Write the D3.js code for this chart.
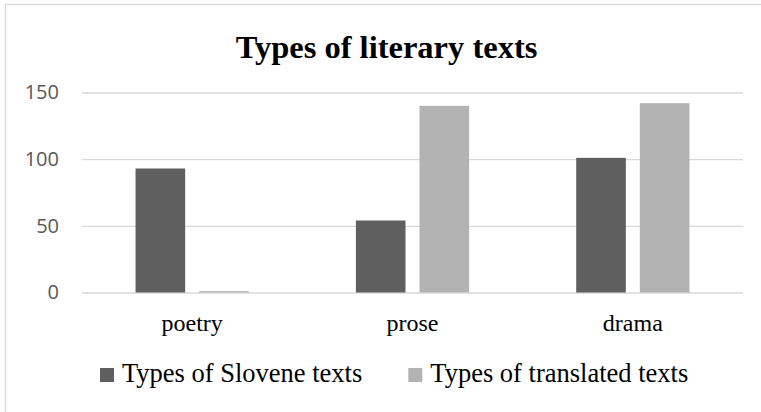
<!DOCTYPE html>
<html>
<head>
<meta charset="utf-8">
<script src="https://cdn.jsdelivr.net/npm/d3@7"></script>
<style>
  body { margin: 0; background: #fff; }
  svg { display: block; }
</style>
</head>
<body>
<script>
// chart data
const categories = ['poetry', 'prose', 'drama']
const seriesNames = ['Types of Slovene texts', 'Types of translated texts']
const slovene = [93, 54, 101]
const translated = [1, 140, 142]
const yTicks = [0, 50, 100, 150]
const seriesColors = ['#5f5f5f', '#b3b3b3']

const fullWidth = 761
const fullHeight = 412
const margin = {top: 92.5, right: 18, bottom: 119.5, left: 82}

const svg = d3.select('body').append('svg')
  .attr('width', fullWidth)
  .attr('height', fullHeight)

// outer chart border (only top and left are inside the picture)
svg.append('rect')
  .attr('x', 5.5).attr('y', 4.5)
  .attr('width', 900).attr('height', 900)
  .attr('fill', 'none')
  .attr('stroke', '#d9d9d9')
  .attr('stroke-width', 1.3)

svg.append('text')
  .attr('x', 386.5).attr('y', 58)
  .attr('text-anchor', 'middle')
  .style('font-family', '"Liberation Serif", "Times New Roman", serif')
  .style('font-weight', 'bold')
  .style('font-size', '32.5px')
  .style('fill', '#000')
  .text('Types of literary texts')

const x0 = d3.scaleBand()
  .domain(categories)
  .range([margin.left, fullWidth - margin.right])
  .paddingInner(0.486)
  .paddingOuter(0.243)

const x1 = d3.scaleBand()
  .domain(seriesNames)
  .range([0, x0.bandwidth()])
  .paddingInner(0.22)

const y = d3.scaleLinear()
  .domain([0, 150])
  .range([fullHeight - margin.bottom, margin.top])

// gridlines + tick labels
const yAxis = d3.axisLeft(y)
  .tickValues(yTicks)
  .tickSize(-(fullWidth - margin.right - margin.left))
  .tickPadding(23)

const yAxisEle = svg.append('g')
  .attr('transform', 'translate(' + margin.left + ',0)')
  .call(yAxis)
yAxisEle.select('.domain').remove()
yAxisEle.selectAll('.tick line')
  .attr('stroke', '#d9d9d9')
  .attr('stroke-width', 1.3)
yAxisEle.selectAll('.tick text')
  .style('font-family', '"Open Sans", sans-serif')
  .style('font-size', '20px')
  .style('fill', '#595959')

// bars
const rows = categories.map((c, i) => ({cat: c, values: [slovene[i], translated[i]]}))

const groups = svg.append('g').classed('bar-holder', true)
  .selectAll('g')
  .data(rows)
  .enter().append('g')
  .attr('transform', d => 'translate(' + x0(d.cat) + ',0)')

groups.selectAll('rect')
  .data(d => d.values.map((v, j) => ({name: seriesNames[j], value: v, j: j})))
  .enter().append('rect')
  .attr('x', d => x1(d.name))
  .attr('width', x1.bandwidth())
  .attr('y', d => y(d.value))
  .attr('height', d => y(0) - y(d.value))
  .attr('fill', d => seriesColors[d.j])

// category labels
const xAxis = d3.axisBottom(x0).tickSize(0).tickPadding(0)
const xAxisEle = svg.append('g')
  .attr('transform', 'translate(0,' + y(0) + ')')
  .call(xAxis)
xAxisEle.select('.domain').remove()
xAxisEle.selectAll('.tick text')
  .attr('y', 38.5).attr('dy', null)
  .style('font-family', '"Liberation Serif", "Times New Roman", serif')
  .style('font-size', '24px')
  .style('fill', '#000')

// legend
const legend = svg.append('g')
let lx = 100
seriesNames.forEach((name, i) => {
  legend.append('rect')
    .attr('x', lx).attr('y', 368)
    .attr('width', 14).attr('height', 14)
    .attr('fill', seriesColors[i])
  const t = legend.append('text')
    .attr('x', lx + 22).attr('y', 382)
    .style('font-family', '"Liberation Serif", "Times New Roman", serif')
    .style('font-size', '26.5px')
    .style('fill', '#000')
    .text(name)
  lx += 22 + t.node().getComputedTextLength() + 46
})
</script>
</body>
</html>
